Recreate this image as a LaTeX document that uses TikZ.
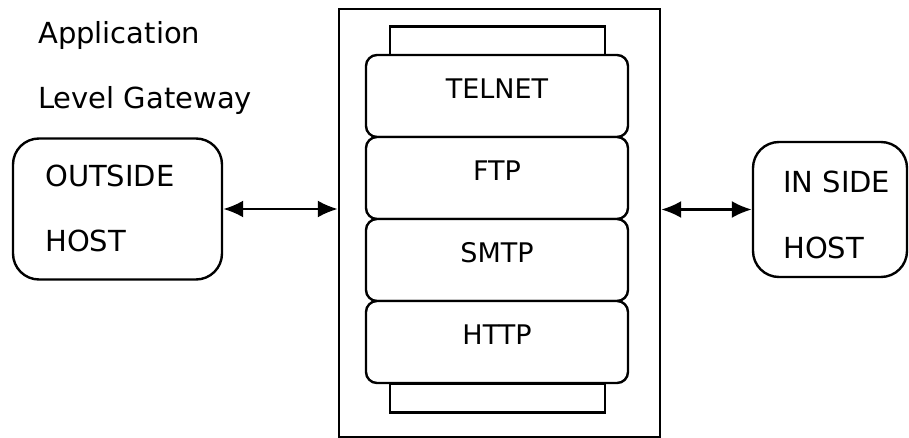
\documentclass[tikz,border=0pt]{standalone}
\usepackage{fontspec}
\setmainfont{DejaVu Sans}
\usetikzlibrary{arrows.meta}

\begin{document}
\begin{tikzpicture}[x=1pt, y=-1pt,
            every node/.style = {font=\fontsize{27}{32}\selectfont},
            frame/.style = {draw, line width=2.4pt, inner sep=0pt},
            tab/.style = {frame, minimum width=215pt, minimum height=29pt},
            proto/.style = {frame, fill=white, rounded corners=11pt,
                            minimum width=262pt, minimum height=82pt},
            host/.style = {frame, rounded corners=26pt},
            caption/.style = {anchor=west, inner sep=0pt, font=\fontsize{29}{34}\selectfont},
            link/.style = {line width=2.4pt, {Latex[length=20pt,width=17pt]}-{Latex[length=20pt,width=17pt]}}]
\useasboundingbox (0,0) rectangle (909,438);

% title
\node[caption] (app) at (38,36) {Application};
\node[caption] (lvl) at (38,101) {Level Gateway};

% gateway
\node[frame, minimum width=321pt, minimum height=428pt] (gate) at (499.5,223) {};
\node[tab] (toptab) at (497.5,41) {};
\node[tab] (bottab) at (497.5,398) {};
\node[proto] (telnet) at (497,96) {};
\node[proto] (ftp) at (497,178) {};
\node[proto] (smtp) at (497,260) {};
\node[proto] (http) at (497,342) {};
\node (telnettxt) at ([yshift=7pt]telnet.center) {TELNET};
\node (ftptxt) at ([yshift=7pt]ftp.center) {FTP};
\node (smtptxt) at ([yshift=7pt]smtp.center) {SMTP};
\node (httptxt) at ([yshift=7pt]http.center) {HTTP};

% hosts
\node[host, minimum width=209pt, minimum height=141pt] (outside) at (117.5,209) {};
\node[caption] (outtxt) at (45,176) {OUTSIDE};
\node[caption] (outhost) at (45,241) {HOST};
\node[host, minimum width=154pt, minimum height=135pt] (inside) at (830,209.5) {};
\node[caption] (intxt) at (783,182) {IN SIDE};
\node[caption] (inhost) at (783,248) {HOST};

\draw[link] (outside.east) -- (outside.east -| gate.west);
\draw[link] (inside.west -| gate.east) -- (inside.west);

\end{tikzpicture}
\end{document}
